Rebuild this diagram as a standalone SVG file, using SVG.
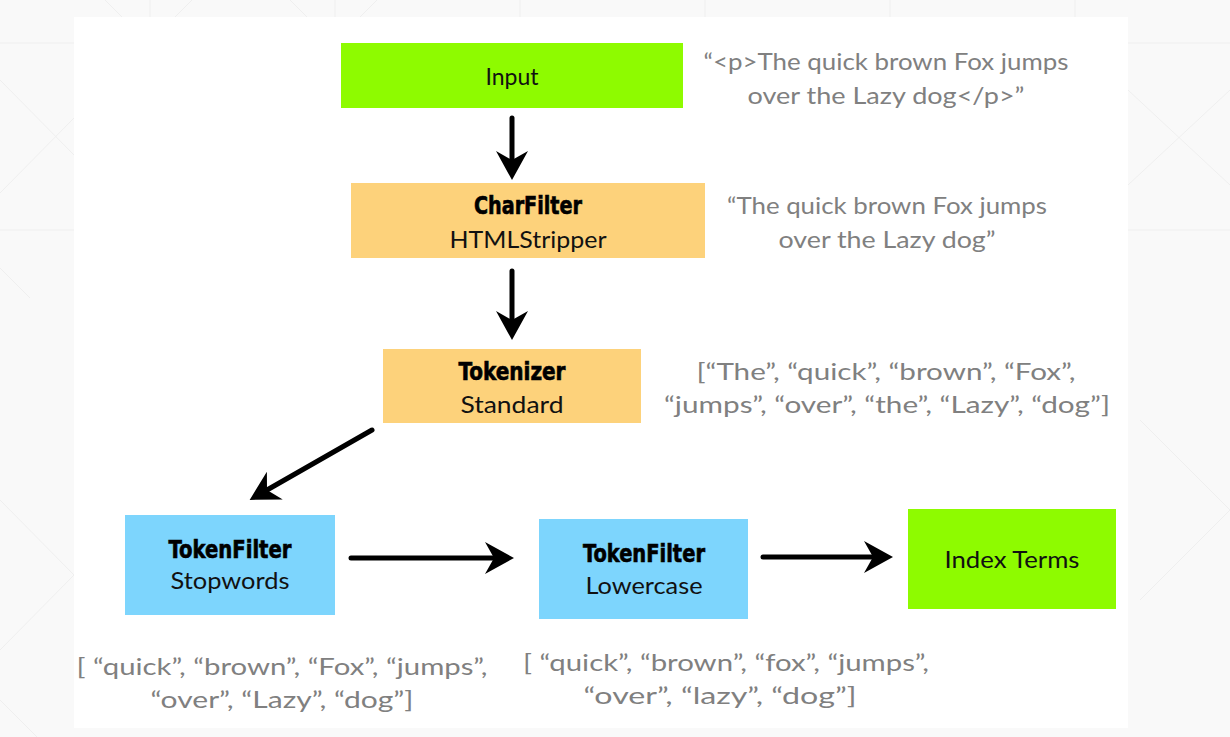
<svg xmlns="http://www.w3.org/2000/svg" width="1230" height="737" viewBox="0 0 1230 737">
<style>
.bg-line{stroke:#efefef;stroke-width:1;fill:none}
.green{fill:#8efb00}
.orange{fill:#fdd27b}
.blue{fill:#7dd5fd}
.lbl{font-family:"Lato","Noto Sans","Liberation Sans",sans-serif;font-size:23px;fill:#111;text-anchor:middle}
.bold{font-family:"DejaVu Sans Condensed","DejaVu Sans","Liberation Sans",sans-serif;font-weight:bold;font-size:24px;fill:#000;text-anchor:middle;stroke:#000;stroke-width:0.6}
.note{font-family:"Lato","Noto Sans","Liberation Sans",sans-serif;font-size:24px;fill:#808080;text-anchor:middle}
.arrow{stroke:#000;stroke-width:5;fill:none;stroke-linecap:round;marker-end:url(#head)}
</style>
<defs>
<marker id="head" viewBox="0 0 30 36" refX="10" refY="18" markerWidth="30" markerHeight="36" markerUnits="userSpaceOnUse" orient="auto">
<path d="M1,2 L30,18 L1,34 L10,18 Z" fill="#000"/>
</marker>
</defs>
<g id="background">
<rect x="0" y="0" width="1230" height="737" fill="#f9f9f9"/>
<path class="bg-line" d="M0,43 H74 M0,230 H74 M0,80 L74,155 M0,193 L74,118 M0,268 L30,298 M1128,43 H1230 M1128,230 H1230 M1128,90 L1230,185 M1128,185 L1230,90 M150,0 V17 M335,0 V17 M520,0 V17 M705,0 V17 M890,0 V17 M1075,0 V17 M105,0 L122,17 M175,17 L192,0 M290,0 L307,17 M360,17 L377,0 M1140,420 L1230,510 M1140,600 L1230,510 M0,500 L74,575 M0,650 L74,575 M0,700 L37,737"/>
<rect x="74" y="17" width="1054" height="711" fill="#ffffff"/>
</g>
<g id="connectors">
<path class="arrow" d="M512,118 L512,160"/>
<path class="arrow" d="M512,271 L512,320"/>
<path class="arrow" d="M372,430 L267,490"/>
<path class="arrow" d="M351,558 L494,558"/>
<path class="arrow" d="M763,557 L873,557"/>
</g>
<g id="node-input">
<rect class="green" x="341" y="43" width="342" height="65"/>
<text class="lbl" x="512" y="85">Input</text>
</g>
<g id="node-charfilter">
<rect class="orange" x="351" y="183" width="354" height="75"/>
<text class="bold" x="528" y="214" textLength="108" lengthAdjust="spacingAndGlyphs">CharFilter</text>
<text class="lbl" x="528" y="248" textLength="157" lengthAdjust="spacingAndGlyphs">HTMLStripper</text>
</g>
<g id="node-tokenizer">
<rect class="orange" x="383" y="349" width="258" height="74"/>
<text class="bold" x="512" y="380" textLength="107" lengthAdjust="spacingAndGlyphs">Tokenizer</text>
<text class="lbl" x="512" y="413" textLength="103" lengthAdjust="spacingAndGlyphs">Standard</text>
</g>
<g id="node-stopwords">
<rect class="blue" x="125" y="515" width="210" height="100"/>
<text class="bold" x="230" y="558" textLength="123" lengthAdjust="spacingAndGlyphs">TokenFilter</text>
<text class="lbl" x="230" y="589" textLength="119" lengthAdjust="spacingAndGlyphs">Stopwords</text>
</g>
<g id="node-lowercase">
<rect class="blue" x="539" y="519" width="209" height="100"/>
<text class="bold" x="644" y="562" textLength="122" lengthAdjust="spacingAndGlyphs">TokenFilter</text>
<text class="lbl" x="644" y="594" textLength="117" lengthAdjust="spacingAndGlyphs">Lowercase</text>
</g>
<g id="node-index">
<rect class="green" x="908" y="509" width="208" height="100"/>
<text class="lbl" x="1012" y="568" textLength="135" lengthAdjust="spacingAndGlyphs">Index Terms</text>
</g>
<g id="notes">
<text class="note" x="886" y="70" textLength="365" lengthAdjust="spacingAndGlyphs">“&lt;p&gt;The quick brown Fox jumps</text>
<text class="note" x="886" y="104" textLength="277" lengthAdjust="spacingAndGlyphs">over the Lazy dog&lt;/p&gt;”</text>
<text class="note" x="887" y="214" textLength="320" lengthAdjust="spacingAndGlyphs">“The quick brown Fox jumps</text>
<text class="note" x="887" y="248" textLength="217" lengthAdjust="spacingAndGlyphs">over the Lazy dog”</text>
<text class="note" x="886" y="380" textLength="379" lengthAdjust="spacingAndGlyphs">[“The”, “quick”, “brown”, “Fox”,</text>
<text class="note" x="887" y="413" textLength="446" lengthAdjust="spacingAndGlyphs">“jumps”, “over”, “the”, “Lazy”, “dog”]</text>
<text class="note" x="282" y="675" textLength="411" lengthAdjust="spacingAndGlyphs">[ “quick”, “brown”, “Fox”, “jumps”,</text>
<text class="note" x="282" y="708" textLength="263" lengthAdjust="spacingAndGlyphs">“over”, “Lazy”, “dog”]</text>
<text class="note" x="726" y="671" textLength="406" lengthAdjust="spacingAndGlyphs">[ “quick”, “brown”, “fox”, “jumps”,</text>
<text class="note" x="720" y="704" textLength="273" lengthAdjust="spacingAndGlyphs">“over”, “lazy”, “dog”]</text>
</g>
</svg>
